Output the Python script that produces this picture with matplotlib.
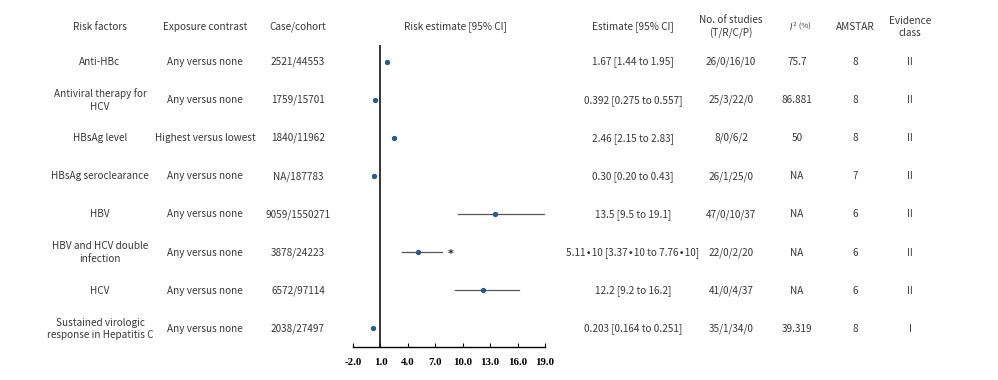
import matplotlib
matplotlib.use('Agg')
import matplotlib.pyplot as plt

plt.rcParams['font.family'] = ['Noto Sans CJK SC', 'DejaVu Sans']

risk_factors = ['Anti-HBc', 'Antiviral therapy for\nHCV', 'HBsAg level', 'HBsAg seroclearance',
                'HBV', 'HBV and HCV double\ninfection', 'HCV',
                'Sustained virologic\nresponse in Hepatitis C']
contrasts = ['Any versus none', 'Any versus none', 'Highest versus lowest', 'Any versus none',
             'Any versus none', 'Any versus none', 'Any versus none', 'Any versus none']
case_cohort = ['2521/44553', '1759/15701', '1840/11962', 'NA/187783',
               '9059/1550271', '3878/24223', '6572/97114', '2038/27497']
est = [1.67, 0.392, 2.46, 0.30, 13.5, 5.11, 12.2, 0.203]
lo = [1.44, 0.275, 2.15, 0.20, 9.5, 3.37, 9.2, 0.164]
hi = [1.95, 0.557, 2.83, 0.43, 19.1, 7.76, 16.2, 0.251]
est_text = ['1.67 [1.44 to 1.95]', '0.392 [0.275 to 0.557]', '2.46 [2.15 to 2.83]',
            '0.30 [0.20 to 0.43]', '13.5 [9.5 to 19.1]', '5.11\u221910 [3.37\u221910 to 7.76\u221910]',
            '12.2 [9.2 to 16.2]', '0.203 [0.164 to 0.251]']
n_studies = ['26/0/16/10', '25/3/22/0', '8/0/6/2', '26/1/25/0',
             '47/0/10/37', '22/0/2/20', '41/0/4/37', '35/1/34/0']
i2 = ['75.7', '86.881', '50', 'NA', 'NA', 'NA', 'NA', '39.319']
amstar = ['8', '8', '8', '7', '6', '6', '6', '8']
evidence = ['II', 'II', 'II', 'II', 'II', 'II', 'II', 'I']
ticks = [-2.0, 1.0, 4.0, 7.0, 10.0, 13.0, 16.0, 19.0]

W, H = 998, 380
fig = plt.figure(figsize=(W / 100, H / 100), dpi=100)

# forest panel
ax = fig.add_axes([353 / W, 33 / H, 192 / W, (347 - 45) / H])
rows = list(range(len(est)))
for r in rows:
    if hi[r] - lo[r] > 1.0:
        ax.plot([lo[r], hi[r]], [r, r], color='#555555', lw=0.9, zorder=2)
ax.scatter(est, rows, s=8, color='#2e5a86', zorder=3)
ax.text(8.7, 5.05, '*', ha='center', va='center', fontsize=8, color='#222222',
        family='DejaVu Sans', fontweight='bold')
ax.axvline(1.0, color='#111111', lw=1.2)
ax.set_xlim(-2.0, 19.0)
ax.set_ylim(7 + 19 / 38, -17 / 38)
for s in ['left', 'right', 'top']:
    ax.spines[s].set_visible(False)
ax.spines['bottom'].set_linewidth(1.0)
ax.set_yticks([])
ax.set_xticks(ticks)
ax.set_xticklabels(['%.1f' % t for t in ticks], family='Liberation Serif',
                   fontweight='bold', fontsize=7.8)
ax.tick_params(axis='x', direction='in', length=3, width=0.8, pad=8)

# columns
def row_y(r):
    return 1 - (62 + 38.1 * r) / H

fs = 7.2
tc = '#383838'
cols = [(100, risk_factors), (205, contrasts), (298, case_cohort), (633, est_text),
        (731, n_studies), (797, i2), (855, amstar), (910, evidence)]
for x, vals in cols:
    for r, v in enumerate(vals):
        fig.text(x / W, row_y(r), v, ha='center', va='center', color=tc,
                 linespacing=1.3, fontsize=fs)

hy = 1 - 27 / H
headers = [(100, 'Risk factors'), (205, 'Exposure contrast'), (298, 'Case/cohort'),
           (455, 'Risk estimate [95% CI]'), (633, 'Estimate [95% CI]'),
           (731, 'No. of studies\n(T/R/C/P)'), (855, 'AMSTAR'), (910, 'Evidence\nclass')]
for x, t in headers:
    fig.text(x / W, hy, t, ha='center', va='center', fontsize=fs, color=tc, linespacing=1.3)
fig.text(797 / W, hy, r'$I^2$', ha='right', va='center', fontsize=6, color=tc)
fig.text(797 / W, hy, ' (%)', ha='left', va='center', fontsize=5.5, color=tc)

fig.savefig('out.png', dpi=100, facecolor='white')
